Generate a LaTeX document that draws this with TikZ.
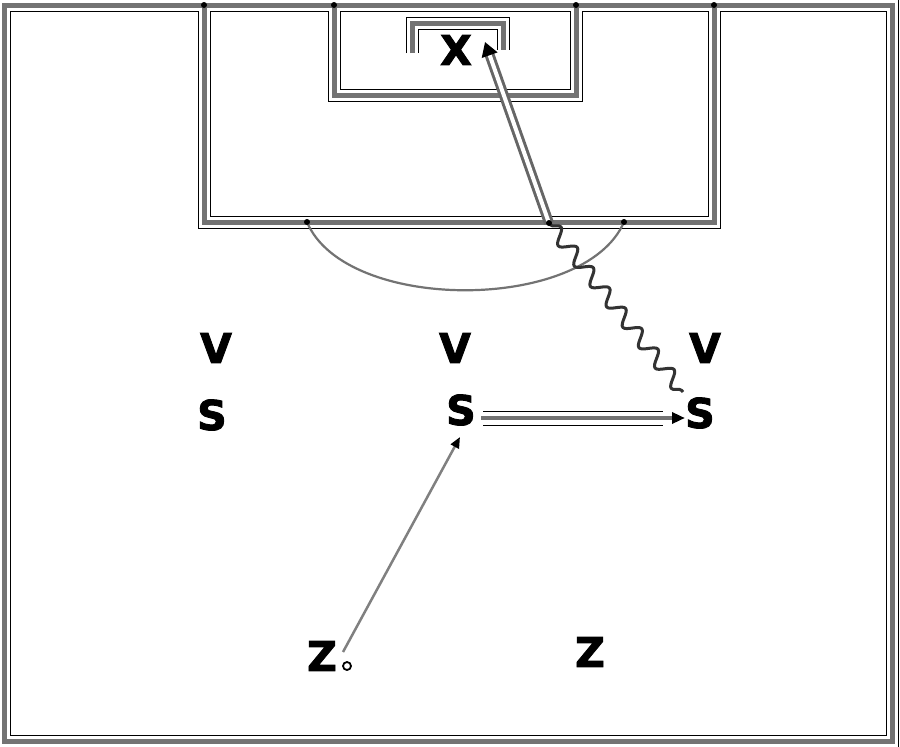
\documentclass[tikz,border=0pt]{standalone}
\usepackage{fontspec}
\newfontfamily\lblfont{DejaVu Sans Bold}[FakeBold=2.2]
\usetikzlibrary{arrows.meta,decorations.pathmorphing}
\begin{document}
\begin{tikzpicture}[x=1pt,y=-1pt,
  lbl/.style={font=\fontsize{41}{41}\lblfont, inner sep=0pt, text=black},
  jdot/.style={fill=black, circle, inner sep=0pt, minimum size=6pt},
  arcline/.style={draw=black!55, line width=2.2pt},
  pass/.style={draw=black!50, line width=2.5pt, -{Triangle[length=11pt,width=9pt,color=black]}},
  runarrow/.style={draw=black!55, line width=4pt, -{Triangle[length=13pt,width=11pt,color=black]}},
  flank/.style={draw=black, line width=1pt},
  dribble/.style={draw=black!80, line width=3pt, line join=round, decorate,
     decoration={snake, amplitude=7pt, segment length=26pt, pre length=2pt, post length=2pt}},
  shot/.style={draw=black!60, line width=3pt, double=white, double distance=4pt,
     -{Triangle[length=14pt,width=16pt,color=black]}}
]
\useasboundingbox (0,0) rectangle (900,747);
\fill[white] (0,0) rectangle (900,747);

% pitch lines: black flanks, white gap, gray centre
\foreach \c/\w in {black/13, white/11, black!55/5} {
  \draw[draw=\c, line width=\w pt, line join=miter]
    (4,5) rectangle (892,741)
    (204,5) -- (204,222) -- (714,222) -- (714,5)
    (334,5) -- (334,95) -- (576,95) -- (576,5)
    (412,53) -- (412,23) -- (503,23) -- (503,50);
}

% penalty arc
\coordinate (arcL) at (307,222);
\coordinate (arcR) at (624,222);
\draw[arcline] (arcL) .. controls (345,313) and (585,313) .. (arcR);

% junction dots
\foreach \p in {(204,5),(334,5),(576,5),(714,5),(307,222),(624,222)}
  \node[jdot] at \p {};

% labels
\node[lbl] (X)  at (456,50)  {X};
\node[lbl] (V1) at (216,348) {V};
\node[lbl] (V2) at (455,348) {V};
\node[lbl] (V3) at (705,348) {V};
\node[lbl] (S1) at (212,415) {S};
\node[lbl] (S2) at (461,410) {S};
\node[lbl] (S3) at (700,413) {S};
\node[lbl] (Z1) at (322,656) {Z};
\node[lbl] (Z2) at (590,652) {Z};
\node[draw=black, line width=1.8pt, circle, inner sep=0pt, minimum size=8pt, fill=white] (ball) at (347,666) {};

% connectors
\coordinate (passstart) at (343,652);
\coordinate (passend) at (460,437);
\draw[pass] (passstart) -- (passend);

\coordinate (runstart) at (481,418);
\coordinate (runend) at (685,418);
\draw[flank] (483,411) -- (663,411);
\draw[flank] (483,425) -- (663,425);
\draw[runarrow] (runstart) -- (runend);

\coordinate (shotstart) at (549,223);
\coordinate (aim) at (485,42);
\coordinate (dribstart) at (683,392);
\draw[dribble] (dribstart) -- (shotstart);
\draw[shot] (shotstart) -- (aim);
\node[jdot] at (shotstart) {};
\end{tikzpicture}
\end{document}
